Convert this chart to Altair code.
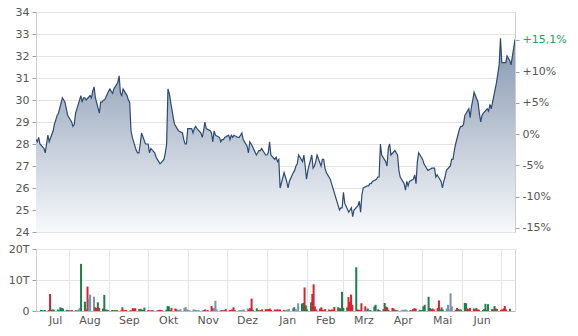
import altair as alt
import pandas as pd

# ---------------- data ----------------
months_de = ['Jan', 'Feb', 'Mrz', 'Apr', 'Mai', 'Jun', 'Jul', 'Aug', 'Sep', 'Okt', 'Nov', 'Dez']

price_jul18 = [28.2, 28.1, 28.3, 28.0, 27.8, 27.6, 28.0, 28.4, 28.1, 28.6, 28.9, 29.1, 29.3, 29.4, 30.1, 30.0]
price_aug18 = [29.9, 29.6, 29.3, 29.0, 28.8, 28.9, 29.4, 29.6, 30.2, 29.9, 30.1, 30.1, 30.0, 30.2, 30.1, 30.4,
               30.6, 30.1, 29.4, 29.9, 29.9, 30.0, 30.0]
price_sep18 = [30.4, 30.5, 30.4, 30.3, 30.5, 30.8, 31.1, 30.3, 30.2, 30.5, 30.2, 30.0, 29.9, 28.6, 28.3, 27.7,
               27.6, 27.6, 28.0, 28.5]
price_okt18 = [28.0, 28.0, 28.0, 27.6, 27.8, 27.6, 27.4, 27.3, 27.2, 27.1, 27.3, 27.6, 28.0, 30.5, 30.3, 29.2,
               28.9, 28.8, 28.7, 28.6, 28.5, 28.2, 28.0]
price_nov18 = [28.0, 28.7, 28.7, 28.5, 28.7, 28.8, 28.7, 28.5, 28.3, 28.6, 29.0, 28.7, 28.6, 28.5, 28.1, 28.6,
               28.4, 28.3, 28.1, 28.2, 28.2, 28.3]
price_dez18 = [28.4, 28.2, 28.4, 28.3, 28.4, 28.3, 28.3, 28.4, 28.5, 28.2, 27.9, 27.6, 28.1, 28.0, 27.9, 27.5,
               27.6, 27.7, 27.7, 27.8, 27.5]
price_jan19 = [27.5, 27.6, 28.1, 27.5, 27.3, 27.4, 27.2, 27.3, 26.0, 26.7, 26.5, 26.3, 26.0, 26.3, 26.7, 26.8,
               27.0, 27.1, 27.5, 27.2, 27.5, 27.0, 26.4]
price_feb19 = [26.8, 27.5, 26.9, 27.0, 27.2, 27.5, 27.0, 27.3, 27.3, 26.9, 26.7, 26.4, 26.2, 26.0, 25.8, 25.6,
               25.0, 25.1, 25.1, 25.8]
price_mrz19 = [25.3, 24.9, 25.0, 25.1, 24.7, 25.0, 25.2, 25.4, 24.9, 25.7, 26.0, 26.1, 26.1, 26.2, 26.2, 26.3,
               26.4, 26.5, 26.5, 28.0, 27.5]
price_apr19 = [27.2, 27.0, 27.8, 28.0, 27.5, 27.7, 27.6, 27.5, 26.8, 26.5, 26.2, 25.9, 26.3, 26.1, 26.3, 26.4,
               26.6, 26.2, 27.2, 27.6, 27.3, 27.1]
price_mai19 = [27.0, 26.9, 26.8, 26.9, 26.9, 26.9, 26.5, 26.6, 26.3, 26.0, 26.3, 26.5, 26.8, 27.0, 27.3, 27.3,
               27.7, 28.0, 28.7, 28.8, 28.8, 28.9, 29.3]
price_jun19 = [29.6, 29.2, 29.7, 30.0, 30.35, 29.9, 29.4, 29.0, 29.3, 29.4, 29.6, 29.5, 29.8, 29.6, 29.9, 30.8,
               31.2, 31.6, 32.8, 31.7]
price_jul19 = [31.7, 32.0, 31.9, 31.8, 31.6, 32.75]

# volume in thousands (T); direction: g = up, r = down, b = neutral
vol_jul18 = [0.3, 0.2, 0.2, 0.3, 0.3, 5.5, 0.4, 0.5, 0.4, 0.5, 0.3, 1.2, 1.0, 0.8, 0.4, 0.3]
dir_jul18 = "ggggrrgggggggggg"
vol_aug18 = [0.2, 0.2, 0.3, 0.3, 0.3, 0.5, 1.0, 15.2, 3.0, 0.5, 7.9, 4.0, 5.3, 4.6, 1.2, 1.0, 2.8, 1.0, 0.8,
             5.2, 0.5, 0.4, 0.3]
dir_aug18 = "grrgbbbggrrbbbrrgrgggrg"
vol_sep18 = [0.3, 0.2, 0.3, 0.2, 0.3, 0.2, 1.2, 0.3, 0.2, 0.3, 0.2, 0.2, 0.9, 0.8, 0.9, 0.6, 0.7, 0.5, 0.3, 1.1]
dir_sep18 = "grgrgrrrgrgrrrrgrggg"
vol_okt18 = [0.3, 0.2, 0.2, 0.3, 0.2, 0.2, 0.3, 0.4, 0.3, 0.2, 0.4, 1.6, 1.5, 0.3, 1.0, 0.8, 0.5, 0.3, 0.4,
             0.6, 1.0, 1.3, 0.5]
dir_okt18 = "grrrgrrgrrggggrrrbbbbbb"
vol_nov18 = [0.3, 0.2, 0.5, 0.4, 0.3, 0.2, 0.3, 0.2, 0.3, 0.5, 0.2, 0.3, 1.6, 0.8, 1.0, 3.3, 0.5, 0.3, 0.3,
             0.2, 0.3, 0.6]
dir_nov18 = "bbbbbbbbgrbrrrbbbbrgrr"
vol_dez18 = [0.3, 0.3, 0.5, 1.2, 0.3, 0.2, 0.3, 0.3, 0.4, 0.5, 0.8, 0.5, 1.0, 4.0, 0.4, 0.9, 0.3, 0.2, 0.3,
             0.5, 0.6]
dir_dez18 = "rrrrrbbbbbbrrrgggrrrr"
vol_jan19 = [0.5, 0.6, 0.8, 0.4, 0.5, 0.3, 0.6, 0.3, 0.5, 0.4, 0.3, 0.3, 0.5, 0.6, 0.9, 1.2, 0.6, 0.4, 2.5,
             2.4, 2.6, 7.6, 1.8]
dir_jan19 = "rrrrrrrrrrbbbbbgbbbggrg"
vol_feb19 = [0.5, 2.8, 5.5, 8.6, 1.5, 0.5, 0.8, 1.2, 0.4, 0.3, 0.6, 0.5, 0.3, 0.5, 0.4, 1.3, 1.2, 1.0, 0.8, 6.2]
dir_feb19 = "ggrrrrrrrrrrgrrrrggg"
vol_mrz19 = [1.0, 1.2, 4.5, 3.0, 5.3, 2.0, 14.1, 0.5, 0.4, 0.3, 2.5, 1.5, 0.5, 0.8, 0.4, 0.3, 1.5, 2.0, 0.3,
             0.5, 0.3]
dir_mrz19 = "ggrrrrggrrrrbgbgggbgr"
vol_apr19 = [0.6, 2.6, 1.4, 1.2, 0.4, 1.0, 0.8, 0.3, 0.3, 0.3, 0.2, 0.4, 0.3, 0.5, 0.3, 0.3, 0.2, 0.6, 0.9,
             0.8, 0.4, 0.3]
dir_apr19 = "ggrrgrrrgbbbbbbggrrrgg"
vol_mai19 = [0.3, 1.5, 2.0, 4.6, 1.0, 0.6, 0.8, 0.5, 1.0, 3.4, 0.4, 1.2, 0.5, 0.8, 2.0, 0.5, 5.7, 1.5, 0.4,
             1.0, 0.6, 0.4, 0.5]
dir_mai19 = "gggggrrrrrgggbbbbbgrrgg"
vol_jun19 = [2.6, 2.5, 0.8, 0.6, 1.0, 0.8, 0.6, 1.0, 0.5, 0.4, 0.3, 0.6, 2.3, 0.4, 2.2, 0.6, 0.5, 1.6, 0.8, 0.6]
dir_jun19 = "ggrrrrrgrrgggggrggrg"
vol_jul19 = [0.4, 0.5, 0.8, 1.6, 0.5, 0.7]
dir_jul19 = "rrrrrg"

base_price = 28.45
pct_ticks = [-15, -10, -5, 0, 5, 10]
last_label = "+15,1%"

price_ticks = list(range(24, 35))
vol_ticks = [0, 10, 20]

# ---------------- assemble ----------------
prices = (price_jul18 + price_aug18 + price_sep18 + price_okt18 + price_nov18 + price_dez18 + price_jan19 +
          price_feb19 + price_mrz19 + price_apr19 + price_mai19 + price_jun19 + price_jul19)
vols = (vol_jul18 + vol_aug18 + vol_sep18 + vol_okt18 + vol_nov18 + vol_dez18 + vol_jan19 + vol_feb19 +
        vol_mrz19 + vol_apr19 + vol_mai19 + vol_jun19 + vol_jul19)
dirs = (dir_jul18 + dir_aug18 + dir_sep18 + dir_okt18 + dir_nov18 + dir_dez18 + dir_jan19 + dir_feb19 +
        dir_mrz19 + dir_apr19 + dir_mai19 + dir_jun19 + dir_jul19)

dates = pd.bdate_range("2018-07-10", "2019-07-08")
n = min(len(dates), len(prices), len(vols), len(dirs))
df = pd.DataFrame({
    "date": dates[:n].strftime("%Y-%m-%d"),
    "price": prices[:n],
    "vol": vols[:n],
    "dir": list(dirs[:n]),
})


def ms(ts):
    return int(pd.Timestamp(ts).tz_localize("UTC").timestamp() * 1000)


start, end = dates[0], dates[n - 1]
month_starts = pd.date_range("2018-08-01", "2019-07-01", freq="MS")
grid_vals = [ms(m) for m in month_starts]

# label positions: middle of the visible part of each month
label_vals = []
bounds = [start] + list(month_starts) + [end]
for a, b in zip(bounds[:-1], bounds[1:]):
    if (b - a).days >= 20:
        label_vals.append(ms(a + (b - a) / 2))

month_expr = "[" + ",".join("'%s'" % m for m in months_de) + "][utcmonth(datum.value)]"

pct_vals = [base_price * (1 + p / 100) for p in pct_ticks] + [prices[n - 1]]
pct_texts = [("+" if p > 0 else "") + "%d%%" % p for p in pct_ticks] + [last_label]
expr = "'%s'" % pct_texts[-1]
for v, t in reversed(list(zip(pct_vals[:-1], pct_texts[:-1]))):
    expr = "datum.value < %.3f ? '%s' : (%s)" % (v + 0.3, t, expr)

# ---------------- style ----------------
FONT = "DejaVu Sans"
LAB = "#555555"
GRID = "#e4e4e4"
TICK = "#a0a0a0"
LINE = "#2c4a72"
GREEN_LBL = "#2e9a5e"

xscale = alt.Scale(type="utc", domain=[ms(start), ms(end)], nice=False)
pscale = alt.Scale(domain=[24, 34], zero=False, nice=False)

base = alt.Chart(df)

area = base.mark_area(
    clip=True,
    color=alt.Gradient(
        gradient="linear",
        stops=[alt.GradientStop(color="#f7f9fb", offset=0),
               alt.GradientStop(color="#8597b0", offset=1)],
        x1=1, x2=1, y1=1, y2=0,
    ),
).encode(
    x=alt.X("date:T", scale=xscale,
            axis=alt.Axis(values=grid_vals, grid=True, gridColor=GRID, labels=False, ticks=False,
                          domain=False, title=None)),
    y=alt.Y("price:Q", scale=pscale,
            axis=alt.Axis(values=price_ticks, title=None, grid=True, gridColor=GRID, domain=True,
                          domainColor="#cccccc", tickColor=TICK, tickSize=4, labelPadding=3,
                          labelFont=FONT, labelFontSize=11, labelColor=LAB)),
    y2=alt.datum(24),
)

line = base.mark_line(clip=True, color=LINE, strokeWidth=1.2).encode(
    x=alt.X("date:T", scale=xscale, axis=None),
    y=alt.Y("price:Q", scale=pscale,
            axis=alt.Axis(orient="right", values=pct_vals, labelExpr=expr, title=None, grid=False,
                          domain=True, domainColor="#cccccc", tickColor=TICK, tickSize=4,
                          labelPadding=3, labelFont=FONT, labelFontSize=11,
                          labelColor={"condition": {"test": "datum.value > %.3f" % (pct_vals[-2] + 0.5),
                                                    "value": GREEN_LBL},
                                      "value": LAB})),
)

top = alt.layer(area, line).resolve_scale(y="independent").properties(width=479, height=220)

bars = base.mark_bar(size=2).encode(
    x=alt.X("date:T", scale=xscale,
            axis=alt.Axis(values=label_vals, labelExpr=month_expr, grid=False, ticks=False, domain=True,
                          domainColor="#bbbbbb", labelPadding=3, labelFont=FONT, labelFontSize=11,
                          labelColor=LAB, labelFlush=False, title=None)),
    y=alt.Y("vol:Q", scale=alt.Scale(domain=[0, 20], nice=False),
            axis=alt.Axis(values=vol_ticks, labelExpr="datum.value == 0 ? '0' : datum.value + 'T'",
                          title=None, grid=True, gridColor=GRID, domain=True, domainColor="#cccccc",
                          tickColor=TICK, tickSize=4, labelPadding=3, labelFont=FONT,
                          labelFontSize=11, labelColor=LAB)),
    color=alt.Color("dir:N", scale=alt.Scale(domain=["g", "r", "b"],
                                             range=["#1c8049", "#d8232f", "#7b92b0"]),
                    legend=None),
)

vgrid = base.mark_bar(size=1, opacity=0).encode(
    x=alt.X("date:T", scale=xscale,
            axis=alt.Axis(orient="top", values=grid_vals, grid=True, gridColor=GRID, labels=False,
                          ticks=False, domain=False, title=None)),
)

bottom = alt.layer(vgrid, bars).resolve_axis(x="independent").properties(width=479, height=62)

chart = alt.vconcat(top, bottom, spacing=4).properties(
    padding={"left": 7, "top": 5, "right": 5, "bottom": 5},
    background="white",
).configure_view(stroke="#d6d6d6", strokeWidth=1)

chart.save("out.html", embed_options={"renderer": "svg", "actions": False})
